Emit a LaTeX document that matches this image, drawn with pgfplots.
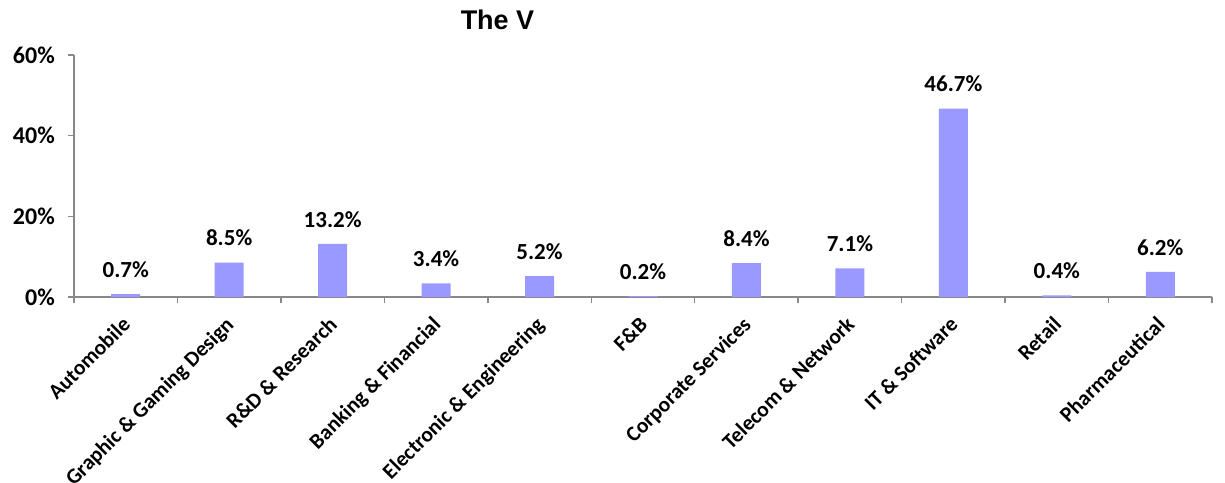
\documentclass[border=0pt]{standalone}
\usepackage{pgfplots}
\pgfplotsset{compat=1.18}
\usepackage{fontspec}
\setmainfont{Carlito}
\newfontfamily\titlefont{Liberation Sans}
\definecolor{barblue}{HTML}{9999FF}
\definecolor{axgray}{HTML}{888888}
\begin{document}
\begin{tikzpicture}[x=1pt,y=1pt]
\path[use as bounding box] (0,0) rectangle (1225,482);
\node[font={\titlefont\bfseries\fontsize{27}{32}\selectfont}] at (497.5,462) {The V};
\begin{axis}[
  at={(74pt,185pt)}, anchor=south west,
  scale only axis, width=1138pt, height=242pt,
  xmin=-0.5, xmax=10.5, ymin=0, ymax=60,
  axis x line*=bottom, axis y line*=left,
  axis line style={axgray, line width=1.4pt, -},
  every tick/.style={axgray, line width=1.4pt},
  tick align=outside,
  ytick={0,20,40,60},
  yticklabels={0\%,20\%,40\%,60\%},
  major tick length=6pt,
  xtick={0,...,10},
  x tick style={draw=none},
  xticklabels={Automobile,Graphic \& Gaming Design,R\&D \& Research,Banking \& Financial,Electronic \& Engineering,F\&B,Corporate Services,Telecom \& Network,IT \& Software,Retail,Pharmaceutical},
  extra x ticks={-0.5,0.5,...,10.5},
  extra x tick labels={},
  extra x tick style={x tick style={draw=axgray, line width=1.4pt}, major tick length=6pt},
  xticklabel style={font={\bfseries\fontsize{21.5}{25}\selectfont}, rotate=45, anchor=north east, inner sep=2pt, xshift=-10pt, yshift=-3pt},
  yticklabel style={font={\bfseries\fontsize{24}{28}\selectfont}, inner sep=2pt, xshift=-11pt},
  /pgf/number format/assume math mode=true,
  ybar, bar width=29pt,
  nodes near coords={\pgfmathprintnumber[fixed,fixed zerofill,precision=1,assume math mode=true]{\pgfplotspointmeta}\%},
  every node near coord/.append style={font={\bfseries\fontsize{23}{27}\selectfont}, black, yshift=13pt},
  clip=false,
]
\addplot[fill=barblue, draw=none] coordinates {
(0,0.7) (1,8.5) (2,13.2) (3,3.4) (4,5.2) (5,0.2) (6,8.4) (7,7.1) (8,46.7) (9,0.4) (10,6.2)
};
\end{axis}
\end{tikzpicture}
\end{document}
